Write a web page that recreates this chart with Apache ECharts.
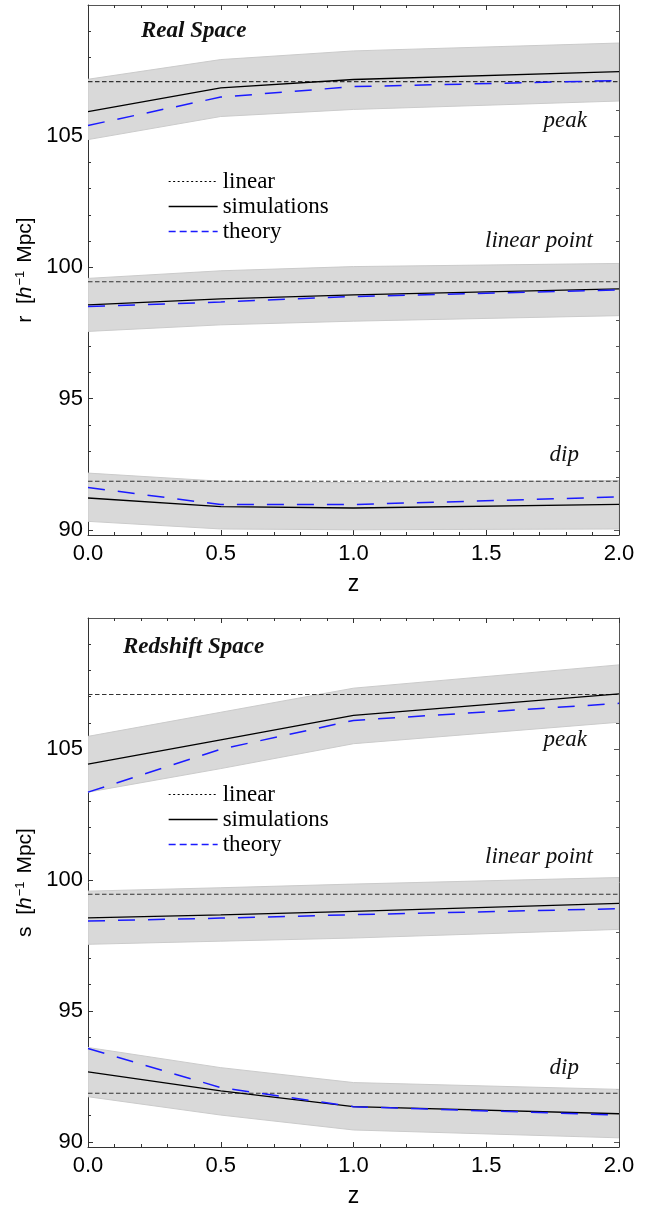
<!DOCTYPE html>
<html><head><meta charset="utf-8">
<script src="https://cdn.jsdelivr.net/npm/echarts@6/dist/echarts.min.js"></script>
<style>html,body{margin:0;padding:0;background:#fff}#c{width:659px;height:1207px}</style>
</head><body><div id="c"></div><script>
// ---------- data ----------
const Z = [0, 0.5, 1, 2];
const Y_LABELS = [90, 95, 100, 105];
const Y_MINOR = [91, 92, 93, 94, 96, 97, 98, 99, 101, 102, 103, 104, 106, 107, 108, 109];
const LINEAR = [107.08, 99.45, 91.85]; // peak, linear point, dip

// Real space
const realPeakSim    = [105.94, 106.84, 107.16, 107.46];
const realPeakTheory = [105.41, 106.49, 106.89, 107.12];
const realPeakHi     = [107.17, 107.92, 108.25, 108.55];
const realPeakLo     = [104.87, 105.75, 106.02, 106.34];
const realLpSim      = [98.57, 98.80, 98.95, 99.18];
const realLpTheory   = [98.51, 98.68, 98.89, 99.14];
const realLpHi       = [99.58, 99.87, 100.03, 100.15];
const realLpLo       = [97.56, 97.81, 97.95, 98.16];
const realDipSim     = [91.21, 90.88, 90.83, 90.97];
const realDipTheory  = [91.61, 90.96, 90.96, 91.25];
const realDipHi      = [92.16, 91.85, 91.79, 91.88];
const realDipLo      = [90.32, 90.03, 90.00, 90.03];

// Redshift space
const rsPeakSim    = [104.42, 105.35, 106.28, 107.10];
const rsPeakTheory = [103.35, 104.99, 106.09, 106.74];
const rsPeakHi     = [105.48, 106.40, 107.32, 108.21];
const rsPeakLo     = [103.35, 104.25, 105.20, 106.02];
const rsLpSim      = [98.55, 98.66, 98.80, 99.10];
const rsLpTheory   = [98.43, 98.54, 98.67, 98.90];
const rsLpHi       = [99.57, 99.70, 99.84, 100.09];
const rsLpLo       = [97.54, 97.66, 97.78, 98.11];
const rsDipSim     = [92.67, 91.94, 91.34, 91.07];
const rsDipTheory  = [93.56, 92.07, 91.34, 91.02];
const rsDipHi      = [93.60, 92.83, 92.26, 92.00];
const rsDipLo      = [91.72, 91.02, 90.45, 90.15];

// ---------- build ----------
const SANS = 'Liberation Sans';
const SERIF = 'Liberation Serif';
const Y_MIN = 89.8, Y_MAX = 110;
const GRIDS = [
  {left: 88, top: 5, width: 531, height: 530},
  {left: 88, top: 618, width: 531, height: 529}
];

const xAxes = [], yAxes = [], series = [], legends = [];

function yNameRich(letter) {
  return {
    name: '{a|' + letter + '  [}{i|h}{s|\u22121}{a| Mpc]}',
    nameTextStyle: {
      rich: {
        a: {fontFamily: SANS, fontSize: 21, color: '#000'},
        i: {fontFamily: SANS, fontSize: 21, fontStyle: 'italic', color: '#000'},
        s: {fontFamily: SANS, fontSize: 13, color: '#000', verticalAlign: 'top', padding: [0, 2, 0, 1]}
      }
    }
  };
}

function addAxes(g, letter) {
  const lineCol = '#333';
  const baseX = {gridIndex: g, type: 'value', min: 0, max: 2, interval: 0.5,
    splitLine: {show: false}, minorSplitLine: {show: false},
    axisLine: {show: true, lineStyle: {color: lineCol, width: 1}},
    axisTick: {show: true, inside: true, length: 5, lineStyle: {color: lineCol}},
    minorTick: {show: true, splitNumber: 5, length: 3, lineStyle: {color: lineCol}}};
  xAxes.push(Object.assign({}, baseX, {position: 'bottom',
    axisLabel: {show: true, margin: 8, fontFamily: SANS, fontSize: 22, color: '#000',
      formatter: v => v.toFixed(1)},
    name: 'z', nameLocation: 'middle', nameGap: 38,
    nameTextStyle: {fontFamily: SANS, fontSize: 23, color: '#000'}}));
  xAxes.push(Object.assign({}, baseX, {position: 'top', axisLabel: {show: false},
    axisLine: {show: true, lineStyle: {color: '#555', width: 1}}}));

  const baseY = {gridIndex: g, type: 'value', min: Y_MIN, max: Y_MAX,
    splitLine: {show: false}, minorSplitLine: {show: false}};
  const nm = yNameRich(letter);
  yAxes.push(Object.assign({}, baseY, {position: 'left',
    axisLine: {show: true, lineStyle: {color: lineCol, width: 1}},
    axisTick: {show: true, inside: true, length: 5, customValues: Y_LABELS, lineStyle: {color: lineCol}},
    axisLabel: {show: true, margin: 5, customValues: Y_LABELS, fontFamily: SANS, fontSize: 22, color: '#000'},
    name: nm.name, nameTextStyle: nm.nameTextStyle, nameLocation: 'middle', nameGap: 48, nameRotate: 90}));
  yAxes.push(Object.assign({}, baseY, {position: 'left', axisLine: {show: false},
    axisTick: {show: true, inside: true, length: 3, customValues: Y_MINOR, lineStyle: {color: lineCol}},
    axisLabel: {show: false}}));
  yAxes.push(Object.assign({}, baseY, {position: 'right',
    axisLine: {show: true, lineStyle: {color: '#555', width: 1}},
    axisTick: {show: true, inside: true, length: 5, customValues: Y_LABELS, lineStyle: {color: '#555'}},
    axisLabel: {show: false}}));
  yAxes.push(Object.assign({}, baseY, {position: 'right', axisLine: {show: false},
    axisTick: {show: true, inside: true, length: 3, customValues: Y_MINOR, lineStyle: {color: '#555'}},
    axisLabel: {show: false}}));
}

function band(g, lo, hi) {
  series.push({type: 'custom', xAxisIndex: 2 * g, yAxisIndex: 4 * g, silent: true, z: 1, clip: true,
    animation: false,
    data: Z.map((z, i) => [z, lo[i], hi[i]]),
    encode: {x: 0, y: [1, 2]},
    renderItem(params, api) {
      if (params.dataIndex !== 0) return null;
      const top = Z.map((z, i) => api.coord([z, hi[i]]));
      const bot = Z.map((z, i) => api.coord([z, lo[i]])).reverse();
      return {type: 'polygon', shape: {points: top.concat(bot)},
        style: {fill: '#d9d9d9', stroke: '#cbcbcb', lineWidth: 1}};
    }});
}

function line(g, name, data, style, z) {
  series.push({type: 'line', name, xAxisIndex: 2 * g, yAxisIndex: 4 * g, data,
    symbol: 'none', silent: true, animation: false, clip: true, z: z,
    lineStyle: style});
}

const SIM_STYLE = {color: '#000', width: 1.3, type: 'solid'};
const TH_STYLE = {color: '#1a1aff', width: 1.5, type: [17, 13]};
const LIN_STYLE = {color: '#333', width: 1.1, type: [4.5, 2.5]};
const HIDE_SYM = {opacity: 0, color: 'rgba(0,0,0,0)', borderWidth: 0};

function panel(g, letter, feats) {
  addAxes(g, letter);
  feats.forEach(f => band(g, f.lo, f.hi));
  feats.forEach((f, k) => {
    line(g, 'linear', [[Z[0], LINEAR[k]], [Z[Z.length - 1], LINEAR[k]]], LIN_STYLE, 3);
    line(g, 'simulations', Z.map((z, i) => [z, f.sim[i]]), SIM_STYLE, 4);
    line(g, 'theory', Z.map((z, i) => [z, f.th[i]]), TH_STYLE, 5);
  });
  legends.push({orient: 'vertical', left: 163, top: GRIDS[g].top + 159,
    itemWidth: 49, itemHeight: 12, itemGap: 0, selectedMode: false,
    textStyle: {fontFamily: SERIF, fontSize: 23, color: '#000', lineHeight: 25},
    itemStyle: HIDE_SYM,
    data: [
      {name: 'linear', itemStyle: HIDE_SYM, lineStyle: {type: [2, 2.5], color: '#000', width: 1.2}},
      {name: 'simulations', itemStyle: HIDE_SYM, lineStyle: {type: 'solid', color: '#000', width: 1.3}},
      {name: 'theory', itemStyle: HIDE_SYM, lineStyle: {type: [7, 4], color: '#1a1aff', width: 1.3}}
    ]});
}

panel(0, 'r', [
  {sim: realPeakSim, th: realPeakTheory, hi: realPeakHi, lo: realPeakLo},
  {sim: realLpSim, th: realLpTheory, hi: realLpHi, lo: realLpLo},
  {sim: realDipSim, th: realDipTheory, hi: realDipHi, lo: realDipLo}
]);
panel(1, 's', [
  {sim: rsPeakSim, th: rsPeakTheory, hi: rsPeakHi, lo: rsPeakLo},
  {sim: rsLpSim, th: rsLpTheory, hi: rsLpHi, lo: rsLpLo},
  {sim: rsDipSim, th: rsDipTheory, hi: rsDipHi, lo: rsDipLo}
]);

function txt(x, y, text, font, align) {
  return {type: 'text', x, y, silent: true, z: 100,
    style: {text, font, fill: '#111', align: align, verticalAlign: 'middle'}};
}
const TITLE_FONT = 'italic bold 23px "Liberation Serif"';
const LAB_FONT = 'italic 23px "Liberation Serif"';
const graphics = [];
[0, 1].forEach(g => {
  const o = GRIDS[g].top - 5;
  graphics.push(txt(g === 0 ? 141 : 123, 31 + o + (g === 1 ? 3 : 0), g === 0 ? 'Real Space' : 'Redshift Space', TITLE_FONT, 'left'));
  graphics.push(txt(587, (g === 0 ? 121 : 127) + o, 'peak', LAB_FONT, 'right'));
  graphics.push(txt(593, (g === 0 ? 241 : 244) + o, 'linear point', LAB_FONT, 'right'));
  graphics.push(txt(579, (g === 0 ? 455 : 455) + o, 'dip', LAB_FONT, 'right'));
});

const chart = echarts.init(document.getElementById('c'), null, {renderer: 'canvas'});
chart.setOption({
  backgroundColor: '#fff',
  animation: false,
  textStyle: {fontFamily: SANS},
  grid: GRIDS.map(r => Object.assign({containLabel: false, outerBoundsMode: 'none'}, r)),
  xAxis: xAxes,
  yAxis: yAxes,
  legend: legends,
  series: series,
  graphic: graphics
});
</script></body></html>
